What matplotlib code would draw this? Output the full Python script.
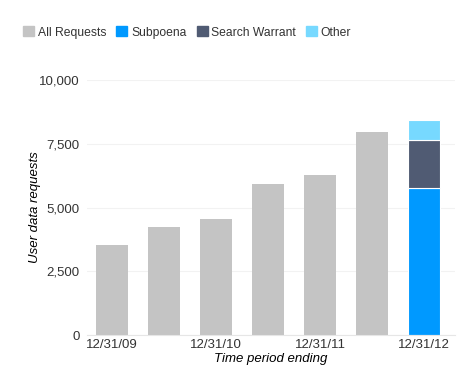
import matplotlib.pyplot as plt
import matplotlib.patches as mpatches
from matplotlib.ticker import FuncFormatter

plt.rcParams["font.family"] = ["Liberation Sans", "DejaVu Sans"]

# data
periods = ["12/31/09", "", "12/31/10", "", "12/31/11", "", "12/31/12"]
all_requests = [3530, 4240, 4560, 5930, 6280, 7960]
subpoena = 5780
search_warrant = 1880
other = 760

gray = "#c4c4c4"
blue = "#0099ff"
dark = "#505b73"
light = "#77d9ff"
txt = "#333333"

fig = plt.figure(figsize=(4.77, 3.71), dpi=100)
ax = fig.add_axes([0.182, 0.097, 0.772, 0.687])

x = list(range(len(periods)))
w = 0.62
ax.bar(x[:len(all_requests)], all_requests, width=w, color=gray, zorder=2)
last = x[-1]
ax.bar(last, subpoena, width=w, color=blue, edgecolor="white", linewidth=0.8, zorder=2)
ax.bar(last, search_warrant, bottom=subpoena, width=w, color=dark,
       edgecolor="white", linewidth=0.8, zorder=2)
ax.bar(last, other, bottom=subpoena + search_warrant, width=w, color=light,
       edgecolor="white", linewidth=0.8, zorder=2)

ax.set_xlim(-0.49, 6.6)
ax.set_ylim(0, 10000)
ax.set_yticks([0, 2500, 5000, 7500, 10000])
ax.yaxis.set_major_formatter(FuncFormatter(lambda v, p: f"{int(v):,}"))
ax.set_xticks(x)
ax.set_xticklabels(periods)
ax.tick_params(length=0, labelsize=9.5, colors=txt)
ax.tick_params(axis="y", pad=5)
ax.tick_params(axis="x", pad=3)
ax.grid(axis="y", color="#f2f2f2", linewidth=0.8, zorder=0)
for s in ["top", "right", "left"]:
    ax.spines[s].set_visible(False)
ax.spines["bottom"].set_color("#e6e6e6")

ax.set_ylabel("User data requests", fontsize=9.5, style="italic", color="black")
ax.yaxis.set_label_coords(-0.125, 0.5)
ax.set_xlabel("Time period ending", fontsize=9.5, style="italic", labelpad=1, color="black")

handles = [mpatches.Patch(color=c, label=l) for c, l in
           [(gray, "All Requests"), (blue, "Subpoena"),
            (dark, "Search Warrant"), (light, "Other")]]
leg = fig.legend(handles=handles, loc="upper left", bbox_to_anchor=(0.036, 0.945),
                 ncol=4, frameon=False, fontsize=8.7, handlelength=0.9, handleheight=0.9,
                 handletextpad=0.3, columnspacing=0.85, borderpad=0)
for t in leg.get_texts():
    t.set_color(txt)

fig.savefig("out.png", dpi=100)
